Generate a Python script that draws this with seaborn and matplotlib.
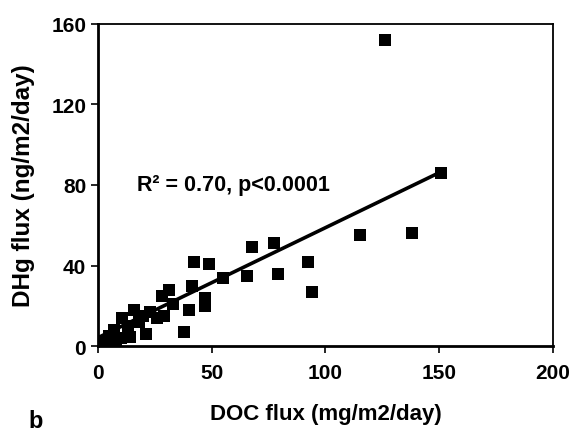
import numpy as np
import pandas as pd
import matplotlib
matplotlib.use("Agg")
import matplotlib.pyplot as plt
import seaborn as sns

# values
doc_flux = [0.5, 1.5, 3, 5, 7, 8, 10, 10.5, 13, 14, 16, 18, 20, 21, 23, 26,
            28, 29, 31, 33, 38, 40, 41.5, 42, 47, 47, 49, 55, 65.5, 67.5,
            77.5, 79, 92.5, 94, 115, 126, 138, 151]
dhg_flux = [1, 0.5, 1.5, 5, 8, 3, 4, 14, 10, 4.5, 18, 12, 15, 6, 17, 14,
            25, 15, 28, 21, 7, 18, 30, 42, 24, 20, 41, 34, 35, 49,
            51, 36, 42, 27, 55, 152, 56, 86]

# fitted line as drawn in the figure
fit_slope = 0.546
fit_intercept = 4.2
fit_label = "R² = 0.70, p<0.0001"

x_ticks = [0, 50, 100, 150, 200]
y_ticks = [0, 40, 80, 120, 160]

df = pd.DataFrame({"DOC": doc_flux, "DHg": dhg_flux})

sns.set_style("ticks")
plt.rcParams["font.family"] = ["Liberation Sans", "DejaVu Sans"]
plt.rcParams["font.weight"] = "bold"
plt.rcParams["text.color"] = "black"
plt.rcParams["axes.labelcolor"] = "black"

fig = plt.figure(figsize=(5.73, 4.35), dpi=100)
ax = fig.add_axes([0.171, 0.202, 0.794, 0.741])

sns.scatterplot(data=df, x="DOC", y="DHg", marker="s", s=85,
                color="black", edgecolor="black", linewidth=0, ax=ax, zorder=3)

xs = np.array([min(doc_flux), max(doc_flux)])
ax.plot(xs, fit_intercept + fit_slope * xs, color="black", lw=2.6, zorder=2)

ax.text(17, 80, fit_label, fontsize=15.5, fontweight="bold", va="center")

ax.set_xlim(0, 200)
ax.set_ylim(0, 160)
ax.set_xticks(x_ticks)
ax.set_yticks(y_ticks)
ax.tick_params(axis="both", direction="out", length=5, width=1.2,
               labelsize=15, colors="black")
ax.tick_params(axis="x", pad=7)
for lab in ax.get_xticklabels() + ax.get_yticklabels():
    lab.set_fontweight("bold")

for side in ["left", "bottom"]:
    ax.spines[side].set_linewidth(2)
for side in ["top", "right"]:
    ax.spines[side].set_linewidth(1.3)
for sp in ax.spines.values():
    sp.set_color("black")

ax.set_xlabel("DOC flux (mg/m2/day)", fontsize=16, fontweight="bold", labelpad=15)
ax.set_ylabel("DHg flux (ng/m2/day)", fontsize=17.5, fontweight="bold", labelpad=12)

# panel letter, sits at the bottom edge as in the scan
fig.text(0.05, 0.004, "b", fontsize=17, fontweight="bold", va="bottom")

fig.savefig("out.png", dpi=100)
